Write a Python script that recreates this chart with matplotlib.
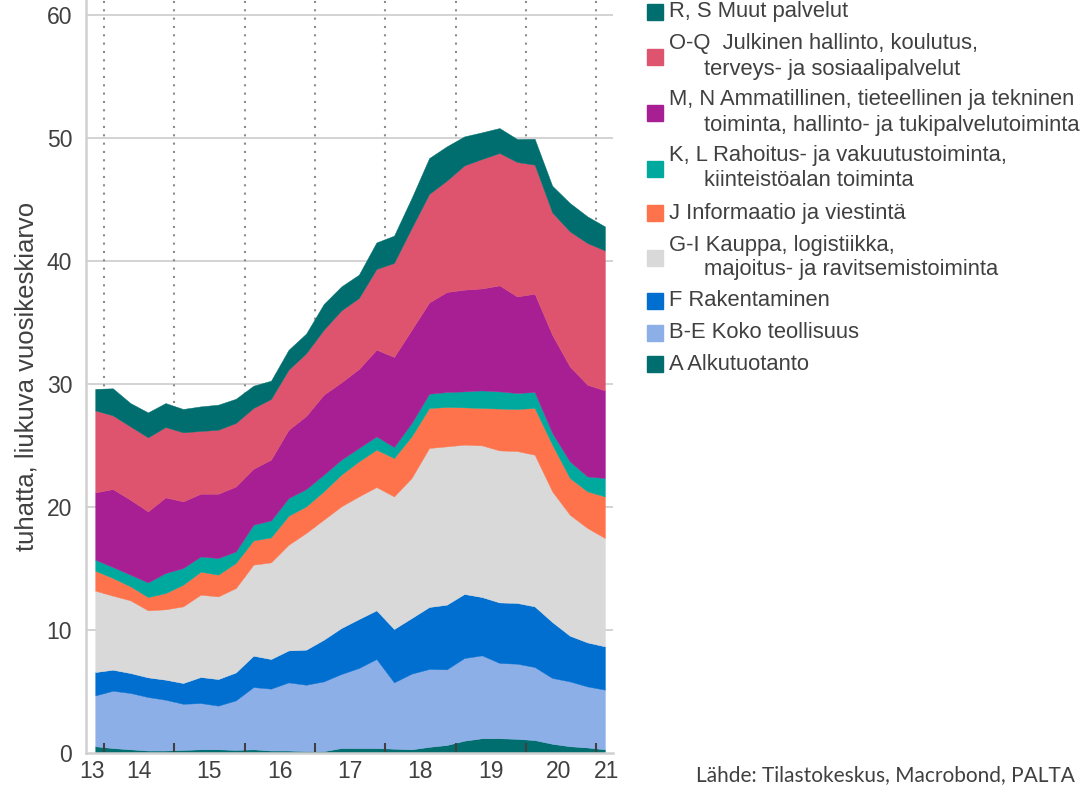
import numpy as np
import pandas as pd
import matplotlib
matplotlib.use("Agg")
import matplotlib.pyplot as plt
from matplotlib.patches import Rectangle

plt.rcParams['font.family'] = ['Liberation Sans', 'DejaVu Sans']

# quarterly data 2013Q4 - 2021Q1, thousands (rolling annual average)
quarters = pd.period_range('2013Q4', '2021Q1', freq='Q')

a_alku = [0.55, 0.4, 0.3, 0.2, 0.2, 0.25, 0.3, 0.3, 0.25, 0.3, 0.2, 0.2, 0.15, 0.15, 0.4,
          0.4, 0.4, 0.35, 0.3, 0.5, 0.65, 1.0, 1.2, 1.2, 1.15, 1.05, 0.75, 0.55, 0.45, 0.3]
be_teol = [4.13, 4.66, 4.58, 4.35, 4.13, 3.75, 3.76, 3.55, 4.03, 5.06, 5.03, 5.54, 5.4, 5.67, 6.02,
           6.51, 7.24, 5.39, 6.15, 6.33, 6.15, 6.72, 6.74, 6.12, 6.11, 5.94, 5.35, 5.27, 4.96, 4.85]
f_rak = [1.9, 1.71, 1.62, 1.6, 1.63, 1.69, 2.12, 2.16, 2.27, 2.55, 2.41, 2.6, 2.85, 3.39, 3.74,
         3.98, 3.96, 4.34, 4.52, 5.04, 5.26, 5.21, 4.74, 4.92, 4.94, 4.93, 4.55, 3.72, 3.58, 3.52]
gi_kauppa = [6.62, 6.02, 5.91, 5.45, 5.72, 6.23, 6.69, 6.72, 6.86, 7.4, 7.86, 8.59, 9.49, 9.76, 9.89,
             9.97, 10.02, 10.78, 11.39, 12.93, 12.87, 12.14, 12.33, 12.36, 12.35, 12.33, 10.62, 9.83, 9.3, 8.81]
j_info = [1.62, 1.44, 1.14, 1.08, 1.32, 1.76, 1.87, 1.77, 2.04, 1.97, 2.03, 2.36, 2.16, 2.3, 2.58,
          2.85, 3.04, 3.12, 3.38, 3.25, 3.2, 3.03, 3.04, 3.4, 3.42, 3.8, 3.8, 2.99, 2.98, 3.38]
kl_rah = [0.9, 0.89, 0.95, 1.19, 1.63, 1.36, 1.24, 1.35, 0.94, 1.28, 1.38, 1.44, 1.41, 1.36, 1.22,
          1.09, 1.08, 0.9, 1.09, 1.16, 1.22, 1.3, 1.43, 1.4, 1.3, 1.3, 0.95, 1.35, 1.22, 1.5]
mn_amm = [5.47, 6.34, 6.09, 5.77, 6.15, 5.42, 5.1, 5.23, 5.28, 4.55, 4.94, 5.55, 5.94, 6.5, 6.28,
          6.42, 7.05, 7.32, 7.58, 7.42, 8.13, 8.27, 8.29, 8.62, 7.85, 7.99, 7.98, 7.72, 7.45, 7.12]
oq_julk = [6.66, 5.99, 5.96, 6.02, 5.72, 5.61, 5.1, 5.2, 5.16, 4.94, 4.93, 4.88, 5.1, 5.28, 5.85,
           5.77, 6.56, 7.64, 8.27, 8.82, 9.05, 10.1, 10.52, 10.76, 10.93, 10.49, 9.95, 10.98, 11.52, 11.38]
rs_muut = [1.75, 2.2, 1.9, 2.03, 1.95, 1.9, 2.0, 2.04, 1.97, 1.81, 1.49, 1.62, 1.6, 2.09, 1.95,
           1.9, 2.16, 2.22, 2.44, 2.92, 2.79, 2.36, 2.17, 2.03, 1.87, 2.11, 2.17, 2.31, 2.17, 1.95]

series = [a_alku, be_teol, f_rak, gi_kauppa, j_info, kl_rah, mn_amm, oq_julk, rs_muut]
colors = ['#006E6E', '#8DAFE8', '#006FD0', '#D9D9D9', '#FF734C',
          '#00A99D', '#A71F93', '#DE546E', '#006E6E']

legend_labels = [
    ('R, S Muut palvelut', None),
    ('O-Q  Julkinen hallinto, koulutus,', 'terveys- ja sosiaalipalvelut'),
    ('M, N Ammatillinen, tieteellinen ja tekninen', 'toiminta, hallinto- ja tukipalvelutoiminta'),
    ('K, L Rahoitus- ja vakuutustoiminta,', 'kiinteistöalan toiminta'),
    ('J Informaatio ja viestintä', None),
    ('G-I Kauppa, logistiikka,', 'majoitus- ja ravitsemistoiminta'),
    ('F Rakentaminen', None),
    ('B-E Koko teollisuus', None),
    ('A Alkutuotanto', None),
]
legend_colors = colors[::-1]

year_labels = ['13', '14', '15', '16', '17', '18', '19', '20', '21']
year_label_pos = [2013.83, 2014.5, 2015.5, 2016.5, 2017.5, 2018.5, 2019.5, 2020.47, 2021.15]
year_ticks = [2014, 2015, 2016, 2017, 2018, 2019, 2020, 2021]

x = quarters.year + (quarters.quarter - 0.5) / 4

W, H = 1086, 785
txt = '#404040'
fig = plt.figure(figsize=(W / 100, H / 100), dpi=100)
ax = fig.add_axes([86 / W, (H - 753) / H, (613 - 86) / W, 753 / H])

# grid lines drawn manually so they stay behind the areas
for yv in range(10, 61, 10):
    ax.axhline(yv, color='#C8C8C8', lw=1.1, zorder=0)
for xv in year_ticks:
    ax.axvline(xv, color='#8C8C8C', lw=1.5, ls=(0, (1, 3)), zorder=0)

polys = ax.stackplot(x, series, colors=colors, zorder=1)
for p, c in zip(polys, colors):
    p.set_edgecolor(c)
    p.set_linewidth(0.3)

ax.set_xlim(2013.744, 2021.24)
ax.set_ylim(0, 61.22)

ax.set_yticks(range(0, 61, 10))
ax.tick_params(axis='y', length=0, pad=10, labelsize=16.5, labelcolor=txt)
ax.set_xticks(year_ticks)
ax.set_xticklabels([])
ax.tick_params(axis='x', which='major', direction='in', length=7.5, width=1.5, color='#404040')
ax.set_xticks(year_label_pos, minor=True)
ax.set_xticklabels(year_labels, minor=True)
ax.tick_params(axis='x', which='minor', length=0, pad=5, labelsize=16.5, labelcolor=txt)

for s in ['top', 'right']:
    ax.spines[s].set_visible(False)
for s in ['left', 'bottom']:
    ax.spines[s].set_color('#D0D0D0')
    ax.spines[s].set_linewidth(1.8)

ax.set_ylabel('tuhatta, liukuva vuosikeskiarvo', fontsize=18.5, color=txt, labelpad=6)

# legend drawn by hand on the right side
patch_y = [12, 57, 113, 169, 213, 258, 301, 333, 364]
for (l1, l2), col, py in zip(legend_labels, legend_colors, patch_y):
    fig.add_artist(Rectangle((647 / W, 1 - (py + 8) / H), 16 / W, 16 / H,
                             transform=fig.transFigure, color=col))
    if l2 is None:
        fig.text(669 / W, 1 - py / H, l1, fontsize=15.8, color=txt, va='center')
    else:
        fig.text(669 / W, 1 - (py - 13) / H, l1, fontsize=15.8, color=txt, va='center')
        fig.text(704 / W, 1 - (py + 12) / H, l2, fontsize=15.8, color=txt, va='center')

fig.text(1075 / W, 1 - 775 / H, 'Lähde: Tilastokeskus, Macrobond, PALTA',
         fontsize=15, color=txt, family='Lato', ha='right', va='center')

fig.savefig('out.png', dpi=100)
